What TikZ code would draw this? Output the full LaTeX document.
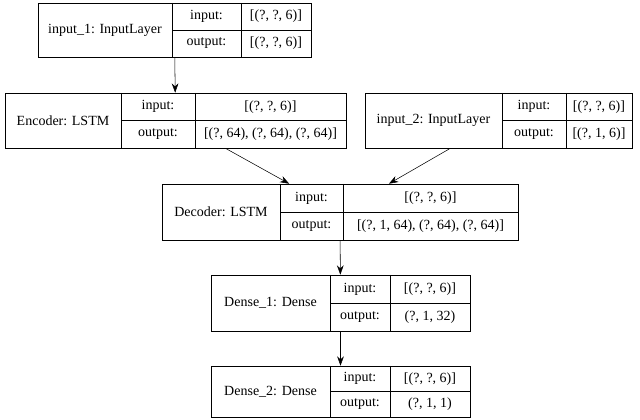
\documentclass[tikz,border=0pt]{standalone}
\usepackage{fontspec}
\setmainfont{Liberation Serif}
\usetikzlibrary{arrows.meta}

% one Keras layer record: name, left, name|label, label|value, right, top, bottom, title, input, output
\newcommand{\kerasrec}[9]{%
  \node[rec, minimum width=(#5-#2)*0.75pt, minimum height=(#7-#6)*0.75pt]
    (#1) at ({(#2+#5)/2},{(#6+#7)/2}) {};
  \draw (#3,#6) -- (#3,#7);
  \draw (#4,#6) -- (#4,#7);
  \draw (#3,{(#6+#7)/2}) -- (#5,{(#6+#7)/2});
  \node[txt] (#1-name) at ({(#2+#3)/2},{(#6+#7)/2}) {#8};
  \node[txt] (#1-inl) at ({(#3+#4)/2},{(3*#6+#7)/4}) {input:};
  \node[txt] (#1-outl) at ({(#3+#4)/2},{(#6+3*#7)/4}) {output:};
  \kerasvals{#1}{#4}{#5}{#6}{#7}%
}
\newcommand{\kerasvals}[5]{%
  \node[txt] (#1-in) at ({(#2+#3)/2},{(3*#4+#5)/4}) {\kin};
  \node[txt] (#1-out) at ({(#2+#3)/2},{(#4+3*#5)/4}) {\kout};
}

\tikzset{
  rec/.style={draw, rectangle, inner sep=0pt},
  txt/.style={inner sep=0pt, font=\fontsize{10.5}{12}\selectfont},
  arr/.style={-{Stealth[length=7pt,width=5pt]}, thin}
}

\begin{document}
\begin{tikzpicture}[x=0.75pt,y=-0.75pt]
\useasboundingbox (0,0) rectangle (640,420);

% layers
\def\kin{[(?, ?, 6)]}\def\kout{[(?, ?, 6)]}
\kerasrec{in1}{38}{172}{241}{311}{3}{57}{input\_1: InputLayer}
\def\kin{(?, ?, 6)}\def\kout{[(?, 64), (?, 64), (?, 64)]}
\kerasrec{enc}{5}{121}{195}{346}{93}{148}{Encoder: LSTM}
\def\kin{[(?, 1, 6)]}\def\kout{[(?, 1, 6)]}
\kerasrec{in2}{365}{502}{566}{632}{93}{148}{input\_2: InputLayer}
\def\kin{[(?, 1, 6), (?, 64), (?, 64)]}\def\kout{[(?, 1, 64), (?, 64), (?, 64)]}
\kerasrec{dec}{162}{280}{343}{518}{184}{240}{Decoder: LSTM}
\def\kin{(?, 1, 64)}\def\kout{(?, 1, 32)}
\kerasrec{den1}{211}{330}{390}{470}{275}{331}{Dense\_1: Dense}
\def\kin{(?, 1, 32)}\def\kout{(?, 1, 1)}
\kerasrec{den2}{211}{330}{390}{470}{366}{417}{Dense\_2: Dense}

% connections
\draw[arr] (in1) -- (enc);
\draw[arr] (enc) -- (dec);
\draw[arr] (in2) -- (dec);
\draw[arr] (dec) -- (den1);
\draw[arr] (den1) -- (den2);
\end{tikzpicture}
\end{document}
